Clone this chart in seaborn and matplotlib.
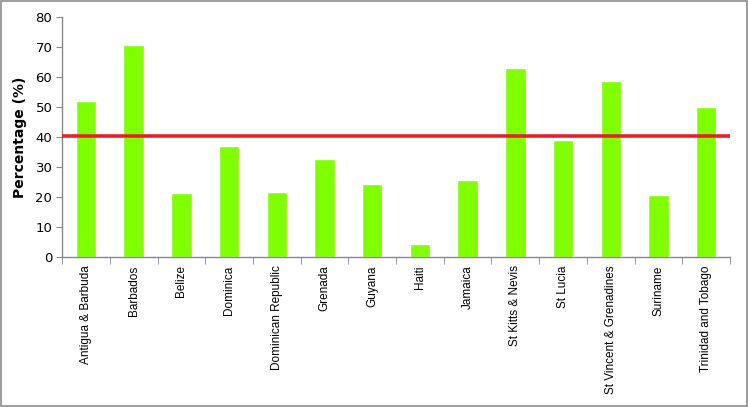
import numpy as np
import pandas as pd
import seaborn as sns
import matplotlib.pyplot as plt

countries = ['Antigua & Barbuda', 'Barbados', 'Belize', 'Dominica', 'Dominican Republic',
             'Grenada', 'Guyana', 'Haiti', 'Jamaica', 'St Kitts & Nevis', 'St Lucia',
             'St Vincent & Grenadines', 'Suriname', 'Trinidad and Tobago']
percentages = [52.0, 70.7, 21.2, 37.0, 21.5, 32.7, 24.4, 4.2, 25.7, 63.0, 39.0, 58.7, 20.7, 50.0]
threshold = 40.4

df = pd.DataFrame({'country': countries, 'pct': percentages})

sns.set_style('white')
plt.rcParams['text.color'] = 'black'
plt.rcParams['axes.labelcolor'] = 'black'
plt.rcParams['xtick.color'] = 'black'
plt.rcParams['ytick.color'] = 'black'

fig = plt.figure(figsize=(7.48, 4.07), dpi=100)
ax = fig.add_axes([0.083, 0.3686, 0.893, 0.5896])

sns.barplot(data=df, x='country', y='pct', color='#80FF00', saturation=1,
            width=0.43, ax=ax, zorder=2)
ax.axhline(threshold, color='#E8202A', lw=2.6, zorder=3)

ax.set_ylim(0, 80)
ax.set_xlim(-0.5, len(countries) - 0.5)
ax.set_yticks(range(0, 81, 10))
ax.tick_params(axis='y', labelsize=9.5, length=4, color='#888888', direction='out', left=True, pad=3)
ax.set_xticks(range(len(countries)))
ax.set_xticklabels(countries, rotation=90, fontsize=8.5, family='Liberation Sans')
ax.tick_params(axis='x', length=0, pad=6)
ax.set_xticks(np.arange(-0.5, len(countries), 1), minor=True)
ax.tick_params(axis='x', which='minor', length=5, color='#888888', bottom=True)

for s in ['top', 'right']:
    ax.spines[s].set_visible(False)
for s in ['left', 'bottom']:
    ax.spines[s].set_color('#888888')
    ax.spines[s].set_linewidth(1)

ax.set_xlabel('')
ax.set_ylabel('Percentage (%)', fontsize=10, fontweight='bold', labelpad=6)

fig.patches.append(plt.Rectangle((0.001, 0.002), 0.997, 0.996, transform=fig.transFigure,
                                 fill=False, edgecolor='#8c8c8c', lw=1.2))

fig.savefig('out.png', dpi=100)
